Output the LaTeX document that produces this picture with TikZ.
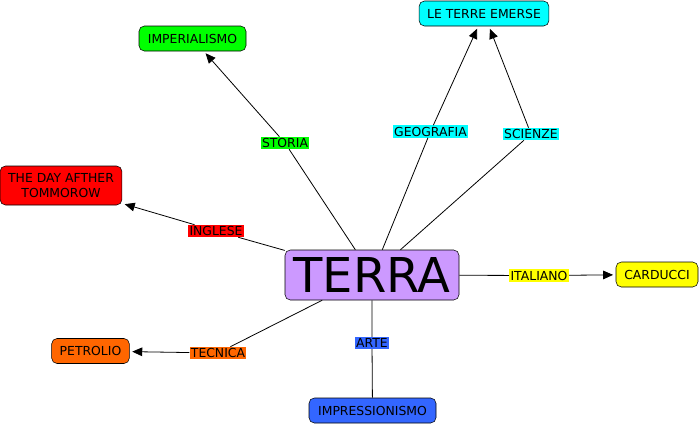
\documentclass[tikz,border=0pt]{standalone}
\usepackage{fontspec}
\setmainfont{DejaVu Sans}
\usetikzlibrary{arrows.meta}
\definecolor{cPUR}{HTML}{CC99FF}
\definecolor{cGRN}{HTML}{00FF00}
\definecolor{cCYA}{HTML}{00FFFF}
\definecolor{cRED}{HTML}{FF0000}
\definecolor{cYEL}{HTML}{FFFF00}
\definecolor{cORG}{HTML}{FF6600}
\definecolor{cBLU}{HTML}{3366FF}

\begin{document}
\begin{tikzpicture}[x=0.75pt, y=-0.75pt, font=\fontsize{9.3}{11.25}\selectfont, >={Triangle[length=7.5pt,width=6.5pt]},
  concept/.style={draw, rounded corners=4pt, fill=#1, minimum height=18.75pt, inner xsep=6pt, align=center},
  link/.style={fill=#1, inner sep=1pt}]
\useasboundingbox (0,0) rectangle (700,425);
% concepts
\node[concept=cPUR, font=\fontsize{36}{38}\selectfont, minimum width=130.5pt, minimum height=37.5pt] (terra) at (372,275) {TERRA};
\node[concept=cGRN, minimum width=80.25pt] (imperialismo) at (192.5,38.5) {IMPERIALISMO};
\node[concept=cCYA, minimum width=96pt] (emerse) at (484,13.5) {LE TERRE EMERSE};
\node[concept=cRED, minimum width=90pt, minimum height=29.25pt] (film) at (61,185.5) {THE DAY AFTHER\\ TOMMOROW};
\node[concept=cYEL, minimum width=61.5pt] (carducci) at (657,274.5) {CARDUCCI};
\node[concept=cORG, minimum width=57.75pt] (petrolio) at (90.5,351) {PETROLIO};
\node[concept=cBLU, minimum width=95.25pt] (impress) at (372.5,410.5) {IMPRESSIONISMO};
% linking words
\node[link=cGRN] (storia) at (285,143) {STORIA};
\node[link=cCYA] (geografia) at (430.5,131.5) {GEOGRAFIA};
\node[link=cCYA] (scienze) at (531,134) {SCIENZE};
\node[link=cRED] (inglese) at (216,231) {INGLESE};
\node[link=cYEL] (italiano) at (539,275.5) {ITALIANO};
\node[link=cORG] (tecnica) at (218,353) {TECNICA};
\node[link=cBLU] (arte) at (372,343) {ARTE};
% connectors
\foreach \l/\t in {storia/imperialismo, geografia/emerse, scienze/emerse, inglese/film, italiano/carducci, tecnica/petrolio} {
  \draw[line width=0.6pt] (terra) -- (\l);
  \draw[line width=0.6pt, ->, shorten >=2pt] (\l) -- (\t);
}
\draw[line width=0.6pt] (terra) -- (arte) -- (impress);
\end{tikzpicture}
\end{document}
